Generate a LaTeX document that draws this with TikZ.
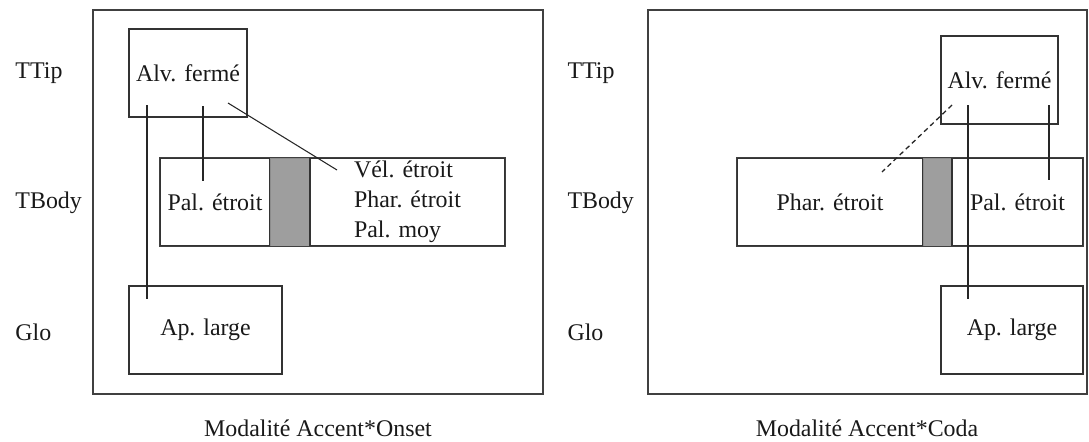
\documentclass[tikz,border=0pt]{standalone}
\usepackage{fontspec}
\setmainfont{Liberation Serif}

\begin{document}
\begin{tikzpicture}[line width=0.7pt, draw=black!80, text=black!90,
  every node/.style={font=\fontsize{17}{21.3}\selectfont},
  box/.style={rectangle, draw=black!80, line width=0.75pt, inner sep=0pt,
              minimum height=2.2cm},
  shade/.style={rectangle, draw=black!45, fill=black!38, line width=0.5pt,
                inner sep=0pt, minimum height=2.2cm},
  row/.style={anchor=west, inner sep=0pt},
  frame/.style={draw=black!75, line width=0.8pt},
  link/.style={black!85, line width=0.75pt},
  dlink/.style={link, line width=0.9pt, dash pattern=on 3.5pt off 2.5pt}
]
  \useasboundingbox (0,0) rectangle (27.225,-11.025);

  % Cadres
  \draw[frame] (2.325,-0.25) rectangle (13.575,-9.85);
  \draw[frame] (16.2,-0.25) rectangle (27.175,-9.85);

  % Lignes (gauche)
  \node[row] (ttipA) at (0.375,-1.825) {TTip};
  \node[row] (tbodyA) at (0.375,-5.075) {TBody};
  \node[row] (gloA) at (0.375,-8.3) {Glo};

  % Lignes (droite)
  \node[row] (ttipB) at (14.175,-1.825) {TTip};
  \node[row] (tbodyB) at (14.175,-5.075) {TBody};
  \node[row] (gloB) at (14.175,-8.3) {Glo};

  % Accent*Onset
  \node[box, minimum width=2.95cm] (alvA) at (4.7,-1.825) {Alv. fermé};
  \node[box, minimum width=2.75cm] (palA) at (5.375,-5.05) {Pal. étroit};
  \node[shade, minimum width=1.0cm] (grisA) at (7.25,-5.05) {};
  \node[box, minimum width=4.875cm, align=left] (velA) at (10.1875,-5.05)
    {Vél. étroit\\Phar. étroit\\Pal. moy};
  \node[box, minimum width=3.825cm] (apA) at (5.1375,-8.25) {Ap. large};
  \draw[frame] (palA.north west) rectangle (velA.south east);

  \coordinate (a1) at (3.675,-2.625);
  \coordinate (a2) at (3.675,-7.475);
  \coordinate (a3) at (5.075,-2.65);
  \coordinate (a4) at (5.075,-4.525);
  \coordinate (a5) at (5.7,-2.575);
  \coordinate (a6) at (8.425,-4.25);
  \draw[link] (a1) -- (a2);
  \draw[link] (a3) -- (a4);
  \draw[link] (a5) -- (a6);

  % Accent*Coda
  \node[box, minimum width=2.925cm] (alvB) at (24.9875,-2.0) {Alv. fermé};
  \node[box, minimum width=4.65cm] (pharB) at (20.75,-5.05) {Phar. étroit};
  \node[shade, minimum width=0.725cm] (grisB) at (23.4375,-5.05) {};
  \node[box, minimum width=3.275cm] (palB) at (25.4375,-5.05) {Pal. étroit};
  \node[box, minimum width=3.55cm] (apB) at (25.3,-8.25) {Ap. large};
  \draw[frame] (pharB.north west) rectangle (palB.south east);

  \coordinate (b1) at (24.2,-2.625);
  \coordinate (b2) at (24.2,-7.475);
  \coordinate (b3) at (26.225,-2.625);
  \coordinate (b4) at (26.225,-4.5);
  \coordinate (b5) at (23.8,-2.625);
  \coordinate (b6) at (22.05,-4.3);
  \draw[link] (b1) -- (b2);
  \draw[link] (b3) -- (b4);
  \draw[dlink] (b5) -- (b6);

  % Legendes
  \node (legA) at (7.95,-10.7) {Modalité Accent*Onset};
  \node (legB) at (21.675,-10.7) {Modalité Accent*Coda};
\end{tikzpicture}
\end{document}
